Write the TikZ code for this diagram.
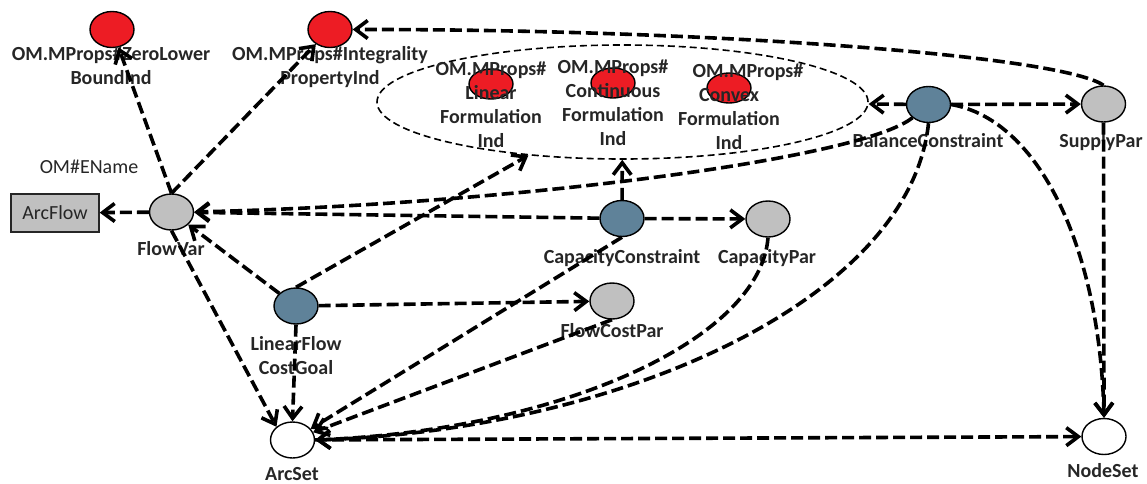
\documentclass[tikz,border=0pt]{standalone}
\usepackage{fontspec}
\setmainfont{Carlito}
\usetikzlibrary{shapes.geometric,arrows.meta}
\definecolor{nodered}{HTML}{ED1C24}
\definecolor{nodeblue}{HTML}{5F8299}
\definecolor{nodegray}{HTML}{C0C0C0}
\definecolor{txt}{HTML}{262626}

\begin{document}
\begin{tikzpicture}[x=1pt,y=-1pt,
  concept/.style={ellipse, draw=black, line width=1.4pt, minimum width=44pt,
                  minimum height=36pt, inner sep=0pt},
  prop/.style={concept, fill=nodered},
  innerprop/.style={concept, fill=nodered, minimum height=30pt},
  constraint/.style={concept, fill=nodeblue},
  param/.style={concept, fill=nodegray},
  setnode/.style={concept, fill=white},
  lbl/.style={font=\bfseries\fontsize{20}{24}\selectfont, text=txt,
              inner sep=0pt, anchor=base, align=center},
  plain/.style={font=\fontsize{20}{24}\selectfont, text=txt, inner sep=0pt},
  link/.style={line width=3.6pt, dash pattern=on 12pt off 5pt,
               -{Straight Barb[length=12pt,width=18pt]}},
  grouping/.style={ellipse, draw=black, line width=1.6pt,
                   dash pattern=on 7pt off 4pt, inner sep=0pt},
]
\useasboundingbox (0,0) rectangle (1147,483);

% formulation properties grouped in one dashed ellipse
\node[grouping, minimum width=491pt, minimum height=114pt] (group) at (622.5,102) {};
\node[innerprop] (linear) at (491,84) {};
\node[innerprop] (continuous) at (613,83) {};
\node[innerprop] (convex) at (729,88) {};

% property and entity nodes
\node[prop] (zerolower) at (112,29.5) {};
\node[prop] (integrality) at (330,29.5) {};
\node[param] (flowvar) at (171.5,212) {};
\node[constraint] (lfcg) at (296,306) {};
\node[constraint] (capcon) at (622,218.5) {};
\node[param] (cappar) at (768,219) {};
\node[param] (flowcostpar) at (612,301) {};
\node[constraint] (balance) at (928.5,104.5) {};
\node[param] (supplypar) at (1103.5,104) {};
\node[setnode] (arcset) at (292.5,440) {};
\node[setnode] (nodeset) at (1104,436.5) {};
\node[draw=txt, fill=nodegray, line width=1.4pt, minimum width=88pt,
      minimum height=38pt, inner sep=0pt, font=\fontsize{20}{24}\selectfont,
      text=txt] (arcflow) at (55,213) {ArcFlow};

% labels (base anchor sits on the last line of a multi-line label)
\node[lbl] (l-zerolower) at (111,84) {OM.MProps\#ZeroLower\\BoundInd};
\node[lbl] (l-integrality) at (330,84) {OM.MProps\#Integrality\\PropertyInd};
\node[lbl] (l-linear) at (491,147) {OM.MProps\#\\Linear\\Formulation\\Ind};
\node[lbl] (l-continuous) at (613,145) {OM.MProps\#\\Continuous\\Formulation\\Ind};
\node[lbl] (l-convex) at (729,149) {\hspace*{38pt}OM.MProps\#\\Convex\\Formulation\\Ind};
\node[lbl] (l-flowvar) at (171,255) {FlowVar};
\node[lbl] (l-lfcg) at (296,374) {LinearFlow\\CostGoal};
\node[lbl] (l-capcon) at (622,263) {CapacityConstraint};
\node[lbl] (l-cappar) at (767,263) {CapacityPar};
\node[lbl] (l-flowcostpar) at (612,337) {FlowCostPar};
\node[lbl] (l-balance) at (928,147) {BalanceConstraint};
\node[lbl] (l-supplypar) at (1101,147) {SupplyPar};
\node[lbl] (l-arcset) at (292,480) {ArcSet};
\node[lbl] (l-nodeset) at (1103,477) {NodeSet};
\node[plain, anchor=base] (ename) at (89,173) {OM\#EName};

% relations
\draw[link] (flowvar.north) -- (zerolower);
\draw[link] (flowvar.north) -- (integrality);
\draw[link] (flowvar) -- (arcflow);
\draw[link] (flowvar.south) -- (arcset.north west);
\draw[link] (lfcg) -- (flowvar);
\draw[link] (lfcg.north) -- (group);
\draw[link] (lfcg) -- (flowcostpar);
\draw[link] (lfcg.south) -- (arcset.north);
\draw[link] (capcon) -- (flowvar);
\draw[link] (capcon) -- (group);
\draw[link] (capcon) -- (cappar);
\draw[link] (capcon.south) -- (arcset);
\draw[link] (flowcostpar.south) -- (arcset);
\draw[link] (cappar.south) .. controls (760,340) and (560,430) .. (arcset.east);
\draw[link] (balance.south) .. controls (910,300) and (620,430) .. (arcset.east);
\draw[link] (balance.south west) .. controls (860,160) and (500,205) .. (flowvar.east);
\draw[link] (balance) -- (group);
\draw[link] (balance) -- (supplypar);
\draw[link] (balance.east) .. controls (1040,120) and (1100,250) .. (nodeset.north);
\draw[link] (supplypar.south) -- (nodeset.north);
\draw[link] (supplypar.north) .. controls (1060,55) and (700,29) .. (integrality.east);
\draw[link] (arcset) -- (nodeset);
\end{tikzpicture}
\end{document}
